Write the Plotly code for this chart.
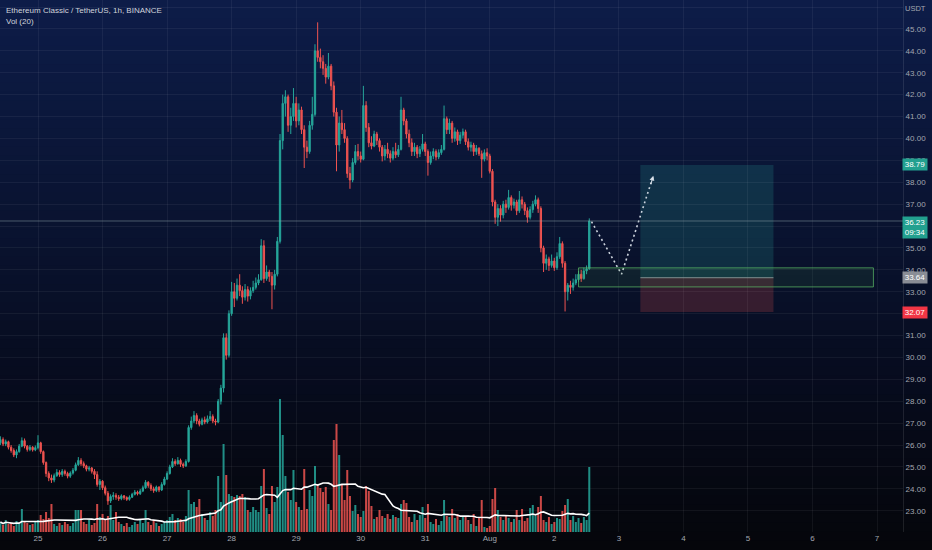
import pandas as pd
import plotly.graph_objects as go

# ETC/USDT 1h candles, 2022-07-24 10:00 .. 2022-08-02 13:00
start_time = "2022-07-24 10:00"

opens = [
    26.10, 26.25, 26.05, 26.15, 25.90, 25.75, 25.55, 25.70, 25.95, 26.20, 25.95, 25.80, 25.90, 25.78,
    25.88, 26.10, 25.70, 25.20, 24.70, 24.50, 24.40, 24.60, 24.75, 24.65, 24.80, 24.70, 24.58, 24.72,
    24.85, 25.10, 25.30, 25.15, 25.05, 24.90, 24.95, 24.80, 24.65, 24.20,
    24.35, 24.05, 23.80, 23.45, 23.65, 23.70, 23.62, 23.55, 23.68, 23.60, 23.52, 23.62, 23.75, 23.85,
    23.78, 23.90, 24.05, 24.30, 24.15, 24.00, 23.92, 24.08, 23.95, 24.20,
    24.45, 24.70, 25.00, 25.25, 25.15, 25.30, 25.12, 25.05, 25.25, 26.80, 27.10, 27.35, 27.10, 26.95,
    27.15, 27.05, 27.20, 27.30, 27.10, 27.05, 28.00, 28.60, 30.90, 30.10,
    32.00, 33.00, 32.70, 33.30, 33.05, 32.75, 33.10, 32.80, 33.05, 33.20, 33.40, 33.55, 35.10, 33.60,
    33.90, 33.70, 33.30, 33.80, 35.30, 39.90, 41.60, 41.90, 40.60, 41.00,
    41.60, 40.80, 41.30, 40.40, 39.60, 39.40, 40.60, 41.10, 44.00, 43.70, 43.50, 43.20, 42.80, 43.30,
    42.40, 41.20, 39.70, 40.70, 40.40, 40.00, 38.40, 38.10, 38.90, 39.40,
    39.20, 39.05, 41.50, 40.50, 39.80, 39.65, 40.20, 39.90, 39.60, 39.20, 39.50, 39.30, 39.10, 39.40,
    39.25, 39.50, 41.30, 40.80, 40.20, 39.80, 39.40, 39.60, 39.30, 39.50,
    39.75, 39.40, 38.90, 39.20, 39.40, 39.15, 39.35, 39.50, 40.90, 40.40, 40.70, 40.00, 40.30, 39.90,
    40.15, 40.30, 39.85, 39.60, 39.70, 39.40, 39.55, 39.30, 39.05, 39.35,
    39.20, 38.50, 37.10, 36.40, 36.80, 36.50, 37.00, 36.85, 37.30, 36.95, 37.10, 36.70, 37.20, 37.00,
    36.70, 36.40, 36.75, 37.00, 37.20, 36.80, 35.00, 34.30, 34.50, 34.20,
    34.40, 34.10, 34.60, 35.20, 34.30, 33.00, 33.30, 33.20, 33.40, 33.55, 33.80, 33.60, 33.95, 34.05,
]
highs = [
    26.40, 26.35, 26.25, 26.20, 26.00, 25.85, 25.80, 26.05, 26.35, 26.30, 26.00, 26.00, 25.95, 25.98,
    26.45, 26.15, 25.75, 25.25, 24.80, 24.65, 24.70, 24.90, 24.85, 24.90, 24.88, 24.78, 24.80, 24.95,
    25.20, 25.45, 25.40, 25.25, 25.10, 25.05, 25.00, 24.90, 24.80, 24.45,
    24.40, 24.15, 23.90, 23.75, 23.85, 23.80, 23.72, 23.75, 23.72, 23.66, 23.70, 23.82, 23.95, 23.92,
    24.00, 24.15, 24.40, 24.35, 24.25, 24.10, 24.15, 24.12, 24.30, 24.55,
    24.80, 25.10, 25.40, 25.35, 25.45, 25.38, 25.20, 25.35, 26.90, 27.30, 27.55, 27.45, 27.20, 27.25,
    27.30, 27.35, 27.55, 27.40, 27.20, 28.10, 28.75, 31.10, 31.10, 32.15,
    33.45, 33.40, 33.60, 33.80, 33.25, 33.35, 33.25, 33.20, 33.50, 33.65, 33.80, 35.40, 35.35, 34.20,
    34.00, 33.90, 34.00, 35.50, 40.20, 42.00, 42.20, 42.00, 41.40, 42.30,
    41.90, 41.60, 41.45, 40.60, 39.90, 40.80, 41.90, 44.30, 45.30, 44.10, 43.80, 43.40, 43.90, 43.40,
    42.60, 41.40, 41.00, 41.30, 40.70, 40.10, 38.70, 39.10, 39.70, 39.75,
    39.40, 42.40, 41.70, 40.70, 40.10, 40.35, 40.30, 40.00, 39.70, 39.70, 39.80, 39.45, 39.60, 39.80,
    39.70, 41.90, 41.40, 40.90, 40.40, 40.00, 39.80, 39.70, 39.65, 40.20,
    39.85, 39.50, 39.40, 39.55, 39.50, 39.50, 39.70, 41.50, 41.00, 40.90, 40.80, 40.50, 40.40, 40.30,
    40.45, 40.40, 40.00, 39.85, 39.80, 39.70, 39.60, 39.45, 39.50, 39.55,
    39.30, 38.60, 37.20, 37.00, 36.95, 37.15, 37.20, 37.65, 37.40, 37.25, 37.20, 37.60, 37.35, 37.10,
    36.85, 36.90, 37.15, 37.40, 37.30, 36.90, 35.10, 34.70, 34.60, 34.70,
    34.55, 34.80, 35.50, 35.30, 34.40, 33.40, 33.50, 33.60, 33.80, 33.95, 34.00, 34.10, 34.20, 36.35,
]
lows = [
    26.00, 25.95, 25.95, 25.80, 25.65, 25.45, 25.40, 25.65, 25.90, 25.85, 25.70, 25.72, 25.70, 25.72,
    25.80, 25.60, 25.10, 24.55, 24.35, 24.27, 24.30, 24.55, 24.55, 24.55, 24.60, 24.48, 24.50, 24.65,
    24.80, 25.05, 25.05, 24.95, 24.80, 24.80, 24.70, 24.45, 24.10, 23.95,
    23.95, 23.70, 23.27, 23.35, 23.50, 23.50, 23.45, 23.48, 23.50, 23.45, 23.46, 23.58, 23.70, 23.70,
    23.72, 23.85, 24.00, 24.05, 23.90, 23.82, 23.85, 23.85, 23.90, 24.15,
    24.40, 24.65, 24.95, 25.05, 25.10, 25.00, 24.95, 25.00, 25.20, 26.70, 27.00, 26.95, 26.85, 26.90,
    26.95, 26.98, 27.10, 27.00, 26.90, 27.00, 27.85, 28.40, 29.90, 30.00,
    31.90, 32.30, 32.60, 32.80, 32.45, 32.60, 32.55, 32.65, 32.95, 33.10, 33.30, 33.50, 33.40, 33.50,
    33.45, 32.20, 33.10, 33.70, 35.20, 39.50, 41.00, 40.30, 40.20, 40.80,
    40.50, 40.60, 40.20, 38.65, 39.10, 39.30, 40.40, 41.00, 43.50, 43.20, 42.90, 42.50, 42.70, 42.20,
    41.00, 38.50, 39.40, 40.20, 39.80, 38.20, 37.70, 38.00, 38.80, 39.00,
    38.90, 39.00, 40.30, 39.60, 39.50, 39.60, 39.70, 39.40, 38.95, 39.00, 39.10, 38.90, 39.00, 39.10,
    39.15, 39.45, 40.60, 40.00, 39.60, 39.20, 39.20, 39.10, 39.15, 39.40,
    39.20, 38.30, 38.80, 39.05, 39.00, 39.05, 39.25, 39.45, 40.20, 40.20, 39.80, 39.85, 39.70, 39.75,
    40.00, 39.70, 39.45, 39.40, 39.20, 39.25, 39.20, 38.20, 38.95, 39.00,
    38.40, 36.90, 36.10, 36.00, 36.20, 36.35, 36.60, 36.75, 36.70, 36.80, 36.50, 36.60, 36.80, 36.50,
    36.15, 36.30, 36.60, 36.90, 36.60, 34.80, 33.90, 34.00, 33.95, 34.10,
    33.95, 34.00, 34.50, 34.10, 32.10, 32.60, 32.90, 33.05, 33.30, 33.45, 33.45, 33.55, 33.80, 34.00,
]
closes = [
    26.25, 26.05, 26.15, 25.90, 25.75, 25.55, 25.70, 25.95, 26.20, 25.95, 25.80, 25.90, 25.78, 25.88,
    26.10, 25.70, 25.20, 24.70, 24.50, 24.40, 24.60, 24.75, 24.65, 24.80, 24.70, 24.58, 24.72, 24.85,
    25.10, 25.30, 25.15, 25.05, 24.90, 24.95, 24.80, 24.65, 24.20, 24.35,
    24.05, 23.80, 23.45, 23.65, 23.70, 23.62, 23.55, 23.68, 23.60, 23.52, 23.62, 23.75, 23.85, 23.78,
    23.90, 24.05, 24.30, 24.15, 24.00, 23.92, 24.08, 23.95, 24.20, 24.45,
    24.70, 25.00, 25.25, 25.15, 25.30, 25.12, 25.05, 25.25, 26.80, 27.10, 27.35, 27.10, 26.95, 27.15,
    27.05, 27.20, 27.30, 27.10, 27.05, 28.00, 28.60, 30.90, 30.10, 32.00,
    33.00, 32.70, 33.30, 33.05, 32.75, 33.10, 32.80, 33.05, 33.20, 33.40, 33.55, 35.10, 33.60, 33.90,
    33.70, 33.30, 33.80, 35.30, 39.90, 41.60, 41.90, 40.60, 41.00, 41.60,
    40.80, 41.30, 40.40, 39.60, 39.40, 40.60, 41.10, 44.00, 43.70, 43.50, 43.20, 42.80, 43.30, 42.40,
    41.20, 39.70, 40.70, 40.40, 40.00, 38.40, 38.10, 38.90, 39.40, 39.20,
    39.05, 41.50, 40.50, 39.80, 39.65, 40.20, 39.90, 39.60, 39.20, 39.50, 39.30, 39.10, 39.40, 39.25,
    39.50, 41.30, 40.80, 40.20, 39.80, 39.40, 39.60, 39.30, 39.50, 39.75,
    39.40, 38.90, 39.20, 39.40, 39.15, 39.35, 39.50, 40.90, 40.40, 40.70, 40.00, 40.30, 39.90, 40.15,
    40.30, 39.85, 39.60, 39.70, 39.40, 39.55, 39.30, 39.05, 39.35, 39.20,
    38.50, 37.10, 36.40, 36.80, 36.50, 37.00, 36.85, 37.30, 36.95, 37.10, 36.70, 37.20, 37.00, 36.70,
    36.40, 36.75, 37.00, 37.20, 36.80, 35.00, 34.30, 34.50, 34.20, 34.40,
    34.10, 34.60, 35.20, 34.30, 33.00, 33.30, 33.20, 33.40, 33.55, 33.80, 33.60, 33.95, 34.05, 36.23,
]
# volume in thousand ETC
volumes = [
    10, 7, 12, 8, 9, 6, 11, 8, 23, 10, 9, 7, 8, 10,
    12, 17, 13, 20, 14, 28, 8, 6, 9, 7, 10, 8, 6, 9,
    22, 22, 22, 10, 8, 12, 7, 9, 28, 15,
    18, 13, 16, 27, 12, 20, 10, 8, 6, 9, 5, 7, 10, 8,
    12, 9, 22, 10, 7, 12, 9, 6, 8, 10,
    12, 15, 18, 12, 14, 13, 10, 16, 42, 28, 30, 25, 33, 18,
    14, 12, 20, 16, 22, 56, 30, 88, 57, 38,
    36, 35, 37, 36, 38, 35, 22, 20, 25, 22, 20, 46, 63, 24,
    18, 46, 30, 45, 133, 97, 56, 40, 32, 62,
    30, 25, 22, 63, 23, 42, 36, 66, 48, 44, 40, 45, 28, 22,
    92, 108, 77, 47, 32, 62, 36, 21, 27, 18,
    15, 21, 46, 41, 26, 13, 15, 22, 16, 14, 18, 13, 17, 15,
    14, 28, 32, 29, 15, 10, 18, 12, 17, 25,
    14, 28, 10, 8, 13, 7, 11, 32, 16, 15, 23, 14, 18, 12,
    16, 15, 12, 8, 18, 6, 14, 32, 5, 4,
    6, 33, 44, 22, 15, 12, 17, 14, 10, 13, 22, 12, 23, 11,
    14, 24, 27, 16, 25, 36, 12, 10, 15, 8,
    10, 14, 13, 21, 27, 33, 12, 16, 10, 14, 9, 15, 12, 65,
]

day_ticks = ["2022-07-25", "2022-07-26", "2022-07-27", "2022-07-28", "2022-07-29", "2022-07-30",
             "2022-07-31", "2022-08-01", "2022-08-02", "2022-08-03", "2022-08-04", "2022-08-05",
             "2022-08-06", "2022-08-07"]
day_labels = ["25", "26", "27", "28", "29", "30", "31", "Aug", "2", "3", "4", "5", "6", "7"]
price_ticks = list(range(23, 47))
hidden_ticks = [32, 36, 46]   # covered by the price labels / too close to the top

# drawings on the chart
last_price = 36.23
entry_price = 33.64
target_price = 38.79
stop_price = 32.07
position_start, position_end = "2022-08-03 08:00", "2022-08-05 09:30"
zone_start, zone_end = "2022-08-02 09:00", "2022-08-06 22:40"
zone_low, zone_high = 33.22, 34.09
path_times = ["2022-08-02 13:50", "2022-08-03 01:00", "2022-08-03 12:50"]
path_prices = [36.20, 33.80, 38.30]

UP, DOWN = "#26a69a", "#ef5350"
FONT = "Liberation Sans Narrow, Liberation Sans, Arial, sans-serif"

times = pd.date_range(start_time, periods=len(closes), freq="h")
vol_ma = pd.Series(volumes).rolling(20, min_periods=1).mean()
vol_colors = ["rgba(38,166,154,0.85)" if c >= o else "rgba(239,83,80,0.85)"
              for o, c in zip(opens, closes)]

fig = go.Figure()
fig.add_trace(go.Bar(x=times, y=volumes, marker_color=vol_colors, marker_line_width=0, yaxis="y"))
fig.add_trace(go.Scatter(x=times, y=vol_ma, mode="lines", line=dict(color="white", width=1.6), yaxis="y"))
fig.add_trace(go.Candlestick(
    x=times, open=opens, high=highs, low=lows, close=closes, yaxis="y2",
    increasing=dict(line=dict(color=UP, width=1), fillcolor=UP),
    decreasing=dict(line=dict(color=DOWN, width=1), fillcolor=DOWN),
    whiskerwidth=0,
))
fig.add_trace(go.Scatter(x=path_times, y=path_prices, mode="lines", yaxis="y2",
                         line=dict(color="rgba(225,232,240,0.9)", width=1.6, dash="2px,3px")))

# dark navy -> black background
stops = [(0.0, (13, 28, 72)), (0.45, (9, 18, 46)), (0.75, (6, 10, 26)), (1.0, (5, 6, 11))]
def bg_color(t):
    for (t0, c0), (t1, c1) in zip(stops, stops[1:]):
        if t <= t1:
            f = (t - t0) / (t1 - t0)
            return "rgb(%d,%d,%d)" % tuple(round(a + (b - a) * f) for a, b in zip(c0, c1))
    return "rgb(5,6,11)"

shapes = []
n_bands = 60
y_top, y_bot = 1.0, -18 / 532
for k in range(n_bands):
    y1 = y_top - (y_top - y_bot) * k / n_bands
    y0 = y_top - (y_top - y_bot) * (k + 1) / n_bands - 0.002
    shapes.append(dict(type="rect", xref="paper", yref="paper", x0=0, x1=932 / 903, y0=y0, y1=y1,
                       fillcolor=bg_color(k / (n_bands - 1)), line_width=0, layer="below"))

shapes += [
    dict(type="rect", xref="x", yref="y2", x0=position_start, x1=position_end, y0=entry_price, y1=target_price,
         fillcolor="rgba(38,166,154,0.2)", line_width=0, layer="below"),
    dict(type="rect", xref="x", yref="y2", x0=position_start, x1=position_end, y0=stop_price, y1=entry_price,
         fillcolor="rgba(239,83,80,0.2)", line_width=0, layer="below"),
    dict(type="line", xref="x", yref="y2", x0=position_start, x1=position_end, y0=entry_price, y1=entry_price,
         line=dict(color="rgba(170,175,185,0.75)", width=1)),
    dict(type="rect", xref="x", yref="y2", x0=zone_start, x1=zone_end, y0=zone_low, y1=zone_high,
         fillcolor="rgba(76,175,80,0.10)", line=dict(color="rgba(90,180,100,0.75)", width=1)),
    dict(type="line", xref="paper", yref="y2", x0=0, x1=1, y0=last_price, y1=last_price,
         line=dict(color="rgba(140,160,170,0.5)", width=1)),
]

lab_x = 915 / 903
def price_label(y, text, bg, height=9, **kw):
    return dict(xref="paper", yref="y2", x=lab_x, y=y, text=text, showarrow=False, xanchor="center",
                bgcolor=bg, width=22, height=height, borderpad=1,
                font=dict(size=8, color="white", family=FONT), **kw)

annotations = [
    dict(xref="paper", yref="paper", x=4 / 903, y=(532 - 11) / 532, xanchor="left", yanchor="middle",
         text="Ethereum Classic / TetherUS, 1h, BINANCE", showarrow=False,
         font=dict(size=8, color="#d1d4dc", family=FONT)),
    dict(xref="paper", yref="paper", x=4 / 903, y=(532 - 22) / 532, xanchor="left", yanchor="middle",
         text="Vol (20)", showarrow=False, font=dict(size=8, color="#d1d4dc", family=FONT)),
    dict(xref="paper", yref="paper", x=lab_x, y=(532 - 9) / 532, xanchor="center", yanchor="middle",
         text="USDT", showarrow=False, font=dict(size=7.5, color="#a3a6af", family=FONT)),
    price_label(target_price, f"{target_price:.2f}", "#22a08f"),
    price_label(last_price, f"{last_price:.2f}<br>09:34", "#22a08f", height=19, yanchor="top", yshift=5),
    price_label(entry_price, f"{entry_price:.2f}", "#8a8d96"),
    price_label(stop_price, f"{stop_price:.2f}", "#f23645"),
    dict(xref="x", yref="y2", x=path_times[-1], y=path_prices[-1], ax=-3, ay=10, axref="pixel", ayref="pixel",
         text="", showarrow=True, arrowhead=2, arrowsize=0.9, arrowwidth=1.1,
         arrowcolor="rgba(225,232,240,0.9)"),
]

grid = "rgba(255,255,255,0.055)"
fig.update_layout(
    width=932, height=550,
    margin=dict(l=0, r=29, t=0, b=18, pad=0),
    paper_bgcolor="#05060b", plot_bgcolor="rgba(0,0,0,0)",
    showlegend=False, bargap=0.25,
    font=dict(family=FONT, size=8, color="#a3a6af"),
    shapes=shapes, annotations=annotations,
    xaxis=dict(type="date", range=["2022-07-24 09:52", "2022-08-07 09:40"],
               tickvals=day_ticks, ticktext=day_labels, showgrid=True, gridcolor=grid,
               zeroline=False, showline=False, ticks="", rangeslider=dict(visible=False),
               tickfont=dict(size=8, color="#a3a6af")),
    yaxis=dict(range=[0, 532], visible=False, showgrid=False, fixedrange=True),
    yaxis2=dict(overlaying="y", side="right", range=[22.03, 46.32],
                tickvals=price_ticks,
                ticktext=["" if v in hidden_ticks else f"{v:.2f}" for v in price_ticks],
                showgrid=True, gridcolor=grid, zeroline=False, ticks="",
                showline=True, linecolor="rgba(255,255,255,0.1)", linewidth=1,
                tickfont=dict(size=8, color="#a3a6af")),
)

fig.write_html("out.html", config={"displayModeBar": False},
               post_script="document.body.style.margin='0';")
